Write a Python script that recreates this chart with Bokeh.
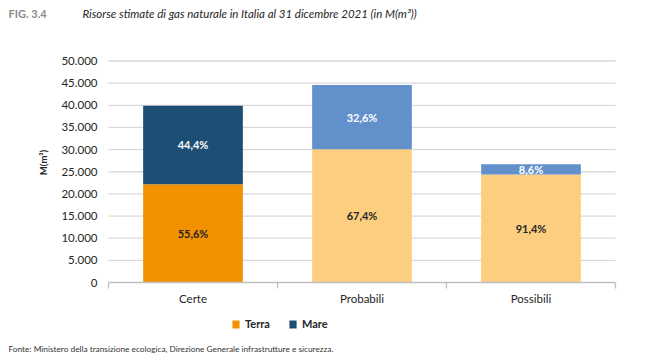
from bokeh.plotting import figure
from bokeh.models import ColumnDataSource, Label, Legend, LegendItem
from bokeh.core.properties import value
from bokeh.embed import file_html
from bokeh.resources import INLINE
import math

categories = ["Certe", "Probabili", "Possibili"]
terra = [22180, 30060, 24400]
mare = [17720, 14540, 2300]
terra_colors = ["#F39200", "#FDCD80", "#FDCD80"]
mare_colors = ["#1D4E73", "#6290CB", "#6290CB"]
y_ticks = [0, 5000, 10000, 15000, 20000, 25000, 30000, 35000, 40000, 45000, 50000]
series_names = ["Terra", "Mare"]

FONT = "Lato"
W, H = 640, 353
# plot-area placement within the canvas (pixels, top-left origin)
AREA_L, AREA_R = 108, 615
AREA_TOP, AREA_BOT = 60.5, 282
N = len(categories)
YMAX = y_ticks[-1]

ppx = (AREA_R - AREA_L) / N            # px per x unit
ppy = (AREA_BOT - AREA_TOP) / YMAX     # px per y unit
x0 = -AREA_L / ppx
x1 = x0 + W / ppx
y0 = -(H - AREA_BOT) / ppy
y1 = y0 + H / ppy

totals = [t + m for t, m in zip(terra, mare)]
xpos = [i + 0.5 for i in range(N)]

def pct(v, tot):
    return f"{100 * v / tot:.1f}".replace(".", ",") + "%"

src = ColumnDataSource(dict(
    x=xpos, terra=terra, mare=mare, total=totals, tc=terra_colors, mc=mare_colors,
    terra_mid=[t / 2 for t in terra],
    mare_mid=[t + m / 2 for t, m in zip(terra, mare)],
    terra_lbl=[pct(t, tot) for t, tot in zip(terra, totals)],
    mare_lbl=[pct(m, tot) for m, tot in zip(mare, totals)],
))

p = figure(width=W, height=H, x_range=(x0, x1), y_range=(y0, y1),
           output_backend="svg", toolbar_location=None,
           min_border_left=0, min_border_right=0, min_border_top=0, min_border_bottom=0)
p.axis.visible = False
p.grid.visible = False
p.outline_line_color = None
p.background_fill_color = "white"

# gridlines
grid_y = y_ticks[1:]
p.segment(x0=[0] * len(grid_y), x1=[N] * len(grid_y), y0=grid_y, y1=grid_y,
          line_color="#D9D9D9", line_width=1.3)

# bars
r_terra = p.vbar(x="x", top="terra", bottom=0, width=0.59, source=src,
                 fill_color="tc", line_color=None)
r_mare = p.vbar(x="x", top="total", bottom="terra", width=0.59, source=src,
                fill_color="mc", line_color=None)

# x axis line and boundary ticks
p.segment(x0=[0], x1=[N], y0=[0], y1=[0], line_color="#BFBFBF", line_width=1.3)
p.segment(x0=list(range(N + 1)), x1=list(range(N + 1)), y0=[0] * (N + 1),
          y1=[-6 / ppy] * (N + 1), line_color="#BFBFBF", line_width=1.3)

# y tick labels
p.text(x=[-11 / ppx] * len(y_ticks), y=y_ticks,
       text=[f"{t:,}".replace(",", ".") for t in y_ticks],
       text_align="right", text_baseline="middle", text_color="#262626",
       text_font=value(FONT), text_font_size="11.5px")
# category labels
p.text(x=xpos, y=[-16 / ppy] * N, text=categories, text_align="center",
       text_baseline="middle", text_color="#262626", text_font=value(FONT),
       text_font_size="11.5px")

# value labels
p.text(x="x", y="terra_mid", text="terra_lbl", source=src, text_align="center",
       text_baseline="middle", text_color="#262626", text_font=value(FONT),
       text_font_size="11px", text_font_style="bold")
p.text(x="x", y="mare_mid", text="mare_lbl", source=src, text_align="center",
       text_baseline="middle", text_color="#FFFFFF", text_font=value(FONT),
       text_font_size="11px", text_font_style="bold")

# y axis title
p.add_layout(Label(x=43, y=H - 162, x_units="screen", y_units="screen", text="M(m³)",
                   angle=math.pi / 2, text_align="center", text_baseline="middle",
                   text_font=FONT, text_font_size="9.5px", text_font_style="bold",
                   text_color="#262626"))

# titles
p.add_layout(Label(x=8, y=H - 13, x_units="screen", y_units="screen", text="FIG. 3.4",
                   text_align="left", text_baseline="middle", text_font=FONT,
                   text_font_size="11px", text_font_style="bold", text_color="#8C8C8C"))
p.add_layout(Label(x=82, y=H - 13, x_units="screen", y_units="screen",
                   text="Risorse stimate di gas naturale in Italia al 31 dicembre 2021 (in M(m³))",
                   text_align="left", text_baseline="middle", text_font=FONT,
                   text_font_size="11.5px", text_font_style="italic", text_color="#262626"))

# footer
p.add_layout(Label(x=8, y=H - 348, x_units="screen", y_units="screen",
                   text="Fonte: Ministero della transizione ecologica, Direzione Generale infrastrutture e sicurezza.",
                   text_align="left", text_baseline="middle", text_font=FONT,
                   text_font_size="8.3px", text_color="#333333"))

legend = Legend(items=[LegendItem(label=series_names[0], renderers=[r_terra], index=0),
                       LegendItem(label=series_names[1], renderers=[r_mare], index=0)],
                location=(231, H - 330), orientation="horizontal",
                glyph_width=9, glyph_height=10, label_standoff=5, spacing=18,
                padding=0, margin=0, border_line_color=None, background_fill_alpha=0,
                label_text_font=FONT, label_text_font_size="11px",
                label_text_font_style="bold", label_text_color="#262626")
p.add_layout(legend, "center")

open("out.html", "w").write(file_html(p, INLINE))
